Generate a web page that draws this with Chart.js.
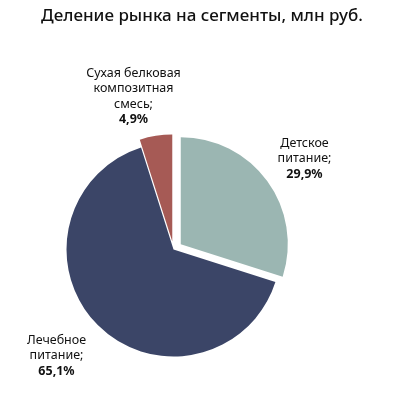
<!DOCTYPE html>
<html>
<head>
<meta charset="utf-8">
<script src="https://cdn.jsdelivr.net/npm/chart.js@4"></script>
<style>
  html, body { margin: 0; padding: 0; background: #fff; }
  #wrap { width: 406px; height: 410px; }
</style>
</head>
<body>
<div id="wrap"><canvas id="marketChart" width="406" height="410"></canvas></div>
<script>
const title = 'Деление рынка на сегменты, млн руб.'
const segments = [['Детское', 'питание;'], ['Лечебное', 'питание;'], ['Сухая белковая', 'композитная', 'смесь;']]
const shares = [29.9, 65.1, 4.9]
const colors = ['#9bb6b2', '#3b4567', '#a65a55']

// how far each slice is pulled out, px
const explode = [9, 0, 8]
// label block centres, relative to the pie centre
const labelPos = [[131, -91], [-117, 106], [-40, -153]]

const FONT = '"Noto Sans", "Open Sans", sans-serif'

// move slices out along their middle angle
const explodePlugin = {
    id: 'explode',
    beforeDatasetsDraw(chart) {
        const meta = chart.getDatasetMeta(0)
        meta.data.forEach(function (arc, i) {
            if (!arc._base) arc._base = { x: arc.x, y: arc.y }
            const mid = (arc.startAngle + arc.endAngle) / 2
            arc.x = arc._base.x + Math.cos(mid) * explode[i]
            arc.y = arc._base.y + Math.sin(mid) * explode[i]
        })
    }
}

const labelsPlugin = {
    id: 'sliceLabels',
    afterDraw(chart) {
        const ctx = chart.ctx
        const area = chart.chartArea
        const cx = (area.left + area.right) / 2
        const cy = (area.top + area.bottom) / 2

        ctx.save()
        ctx.fillStyle = '#111'
        ctx.textAlign = 'center'
        ctx.textBaseline = 'middle'
        ctx.font = '500 17px ' + FONT
        ctx.fillText(title, 202, 16)

        const lineH = 15.5
        segments.forEach(function (lines, i) {
            const all = lines.concat([shares[i].toFixed(1).replace('.', ',') + '%'])
            const x = cx + labelPos[i][0]
            let y = cy + labelPos[i][1] - (all.length - 1) * lineH / 2
            all.forEach(function (t, j) {
                ctx.font = (j == all.length - 1 ? 'bold ' : '') + '12.5px ' + FONT
                ctx.fillText(t, x, y)
                y += lineH
            })
        })
        ctx.restore()
    }
}

new Chart(document.getElementById('marketChart'), {
    type: 'pie',
    data: {
        labels: segments.map(s => s.join(' ')),
        datasets: [{
            data: shares,
            backgroundColor: colors,
            borderWidth: 0
        }]
    },
    options: {
        responsive: false,
        animation: false,
        radius: 107,
        layout: {
            padding: { left: 0, right: 59, top: 140, bottom: 51 }
        },
        plugins: {
            legend: { display: false },
            title: { display: false },
            tooltip: { enabled: false }
        }
    },
    plugins: [explodePlugin, labelsPlugin]
});
</script>
</body>
</html>
